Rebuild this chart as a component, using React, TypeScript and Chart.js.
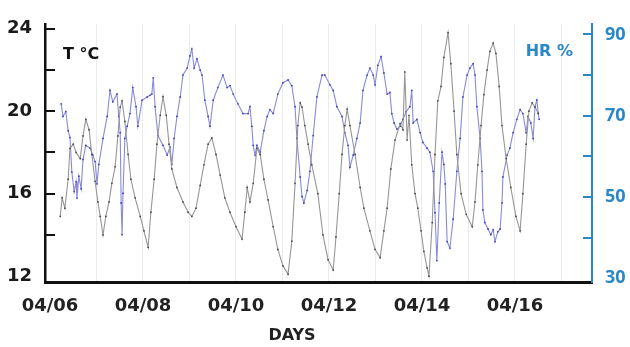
import { useEffect, useRef } from 'react';
import { Chart, registerables } from 'chart.js';

Chart.register(...registerables);

// x values are days elapsed since 04/06 00:00
const DAY_LABELS = ['04/06', '04/08', '04/10', '04/12', '04/14', '04/16'];
const T_TICKS = [12, 14, 16, 18, 20, 22, 24];
const T_LABELED = [12, 16, 20, 24];
const HR_TICKS = [30, 40, 50, 60, 70, 80, 90];
const HR_LABELED = [30, 50, 70, 90];

const TEMP_TIME = [
  0.22, 0.26, 0.32, 0.39, 0.43, 0.5, 0.56, 0.65, 0.71, 0.77,
  0.84, 0.9, 0.97, 1.03, 1.08, 1.14, 1.2, 1.27, 1.33, 1.4,
  1.46, 1.51, 1.55, 1.61, 1.68, 1.74, 1.83, 1.94, 2.02, 2.11,
  2.17, 2.24, 2.3, 2.37, 2.43, 2.5, 2.56, 2.62, 2.73, 2.86,
  2.97, 3.05, 3.14, 3.23, 3.31, 3.4, 3.48, 3.57, 3.66, 3.76,
  3.87, 4.0, 4.13, 4.19, 4.24, 4.3, 4.37, 4.45, 4.52, 4.6,
  4.69, 4.8, 4.9, 5.01, 5.12, 5.2, 5.27, 5.33, 5.38, 5.42,
  5.48, 5.55, 5.63, 5.76, 5.87, 5.98, 6.09, 6.15, 6.22, 6.28,
  6.34, 6.39, 6.45, 6.56, 6.67, 6.75, 6.88, 6.99, 7.1, 7.18,
  7.25, 7.33, 7.42, 7.53, 7.59, 7.63, 7.68, 7.72, 7.78, 7.85,
  7.91, 7.98, 8.04, 8.11, 8.15, 8.22, 8.28, 8.34, 8.41, 8.47,
  8.56, 8.62, 8.69, 8.75, 8.84, 8.95, 9.08, 9.14, 9.2, 9.27,
  9.33, 9.4, 9.46, 9.53, 9.59, 9.66, 9.72, 9.81, 9.91, 10.02,
  10.11, 10.17, 10.24, 10.3, 10.37, 10.43, 10.5,
];
const TEMP = [
  14.9, 15.8, 15.3, 16.7, 18.2, 18.4, 18.0, 17.7, 18.8, 19.6,
  19.1, 17.9, 16.6, 15.6, 14.9, 14.0, 14.9, 15.6, 16.5, 17.3,
  18.8, 20.2, 20.5, 19.5, 17.9, 16.7, 15.8, 14.9, 14.2, 13.4,
  15.1, 16.7, 18.4, 19.8, 20.7, 19.8, 18.4, 17.2, 16.3, 15.6,
  15.1, 14.9, 15.3, 16.4, 17.4, 18.4, 18.7, 17.9, 16.9, 15.8,
  15.1, 14.4, 13.8, 15.1, 16.3, 15.6, 16.5, 18.2, 17.9, 16.7,
  15.7, 14.4, 13.3, 12.5, 12.1, 13.7, 16.5, 19.3, 20.4, 20.2,
  19.3, 18.4, 17.4, 16.0, 14.0, 12.8, 12.3, 13.9, 16.0, 17.9,
  19.3, 20.1, 19.3, 17.9, 16.3, 15.3, 14.2, 13.3, 12.9, 14.2,
  15.3, 17.2, 18.6, 19.4, 19.1, 21.9, 18.6, 19.8, 17.4, 16.0,
  15.3, 14.2, 13.2, 12.4, 12.0, 14.6, 17.9, 20.5, 21.2, 22.6,
  23.8, 22.3, 20.0, 17.9, 16.0, 15.0, 14.4, 15.6, 17.4, 19.3,
  20.8, 22.0, 22.9, 23.3, 22.8, 21.2, 19.3, 17.7, 16.3, 14.9,
  14.2, 16.0, 18.4, 20.0, 20.4, 20.2, 19.9,
];

const HR_TIME = [
  0.24, 0.28, 0.34, 0.39, 0.43, 0.47, 0.52, 0.56, 0.58, 0.62,
  0.67, 0.71, 0.77, 0.86, 0.92, 0.97, 1.01, 1.05, 1.14, 1.23,
  1.29, 1.35, 1.44, 1.48, 1.51, 1.53, 1.55, 1.57, 1.61, 1.66,
  1.72, 1.78, 1.85, 1.89, 1.98, 2.09, 2.15, 2.19, 2.22, 2.26,
  2.32, 2.43, 2.52, 2.58, 2.62, 2.67, 2.73, 2.8, 2.86, 2.95,
  3.01, 3.05, 3.1, 3.16, 3.23, 3.27, 3.33, 3.4, 3.44, 3.51,
  3.61, 3.72, 3.81, 3.87, 3.94, 4.04, 4.15, 4.26, 4.3, 4.34,
  4.37, 4.41, 4.45, 4.52, 4.6, 4.67, 4.73, 4.8, 4.9, 5.01,
  5.12, 5.2, 5.27, 5.31, 5.38, 5.42, 5.46, 5.53, 5.59, 5.66,
  5.74, 5.85, 5.91, 6.02, 6.09, 6.17, 6.28, 6.34, 6.41, 6.45,
  6.52, 6.6, 6.67, 6.73, 6.82, 6.88, 6.95, 6.99, 7.05, 7.12,
  7.18, 7.25, 7.31, 7.35, 7.4, 7.46, 7.53, 7.59, 7.66, 7.74,
  7.78, 7.81, 7.89, 7.96, 8.02, 8.11, 8.17, 8.24, 8.28, 8.32,
  8.37, 8.43, 8.47, 8.5, 8.54, 8.6, 8.67, 8.75, 8.82, 8.88,
  8.97, 9.03, 9.1, 9.14, 9.18, 9.25, 9.29, 9.31, 9.35, 9.42,
  9.48, 9.53, 9.57, 9.63, 9.68, 9.72, 9.74, 9.83, 9.89, 9.96,
  10.04, 10.11, 10.17, 10.24, 10.28, 10.34, 10.39, 10.43, 10.47, 10.5,
  10.52,
];
const HR = [
  72.9, 69.8, 71.0, 66.3, 64.6, 56.1, 51.3, 53.7, 49.7, 55.1,
  52.0, 59.2, 62.7, 62.0, 60.3, 58.7, 53.2, 58.0, 64.4, 69.8,
  76.2, 73.4, 75.3, 69.8, 65.8, 48.5, 40.7, 50.9, 64.4, 67.4,
  70.5, 76.9, 72.2, 67.4, 73.8, 74.6, 75.0, 75.3, 79.3, 72.2,
  65.1, 62.7, 60.3, 62.2, 58.0, 64.4, 69.8, 74.6, 80.0, 81.7,
  84.7, 86.4, 81.7, 84.0, 81.2, 80.0, 73.8, 69.8, 67.4, 73.8,
  76.9, 80.0, 76.9, 77.4, 75.3, 72.9, 70.5, 70.5, 72.2, 67.4,
  62.7, 60.3, 62.7, 61.0, 66.3, 69.8, 71.5, 70.5, 75.3, 78.1,
  78.8, 77.4, 72.2, 64.4, 54.9, 50.1, 48.5, 51.6, 56.3, 65.1,
  74.6, 80.0, 80.0, 77.6, 76.2, 72.2, 69.8, 65.8, 62.7, 57.3,
  60.3, 64.4, 68.2, 76.2, 80.0, 81.7, 80.0, 77.6, 82.4, 84.5,
  80.5, 75.3, 75.7, 70.5, 68.2, 66.7, 67.4, 69.1, 71.0, 72.2,
  76.2, 68.2, 69.1, 65.8, 63.4, 62.0, 61.0, 56.3, 46.1, 34.3,
  48.5, 61.0, 58.0, 53.2, 39.0, 37.4, 44.5, 56.3, 64.4, 74.6,
  80.0, 81.7, 82.8, 80.0, 72.2, 64.4, 56.3, 46.8, 43.7, 42.1,
  40.7, 41.9, 39.0, 41.4, 42.1, 48.5, 54.9, 60.3, 62.0, 65.8,
  69.1, 71.5, 70.5, 65.8, 69.8, 68.2, 64.4, 72.2, 73.8, 70.5,
  69.1,
];

const BLUE_AXIS = '#2a88c8';

const decorPlugin = {
  id: 'decor',
  afterDraw(chart: any) {
    const { ctx, chartArea, scales } = chart;
    const yl = scales.y;
    const yr = scales.y1;
    ctx.save();
    ctx.lineWidth = 2;
    ctx.strokeStyle = '#111111';
    yl.ticks.forEach((t: any) => {
      if (t.value === yl.ticks[0].value) return;
      const p = Math.round(yl.getPixelForValue(t.value));
      ctx.beginPath();
      ctx.moveTo(chartArea.left, p);
      ctx.lineTo(chartArea.left + 10, p);
      ctx.stroke();
    });
    ctx.strokeStyle = BLUE_AXIS;
    yr.ticks.forEach((t: any) => {
      if (t.value === yr.ticks[0].value) return;
      const p = Math.round(yr.getPixelForValue(t.value));
      ctx.beginPath();
      ctx.moveTo(chartArea.right - 9, p);
      ctx.lineTo(chartArea.right, p);
      ctx.stroke();
    });
    ctx.textBaseline = 'middle';
    ctx.font = 'bold 16px "DejaVu Sans"';
    ctx.fillStyle = '#111111';
    ctx.textAlign = 'left';
    ctx.fillText('T °C', chartArea.left + 18, 55);
    ctx.fillStyle = BLUE_AXIS;
    ctx.textAlign = 'right';
    ctx.fillText('HR %', chartArea.right - 19, 52);
    ctx.fillStyle = '#222222';
    ctx.textAlign = 'center';
    ctx.fillText('DAYS', 292, 336);
    ctx.restore();
  },
};

export default function App() {
  const canvasRef = useRef<HTMLCanvasElement | null>(null);

  useEffect(() => {
    if (!canvasRef.current) return;
    const tempData = TEMP_TIME.map((x, i) => ({ x, y: TEMP[i] }));
    const hrData = HR_TIME.map((x, i) => ({ x, y: HR[i] }));
    const chart = new Chart(canvasRef.current, {
      type: 'line',
      data: {
        datasets: [
          {
            label: 'T °C',
            data: tempData,
            yAxisID: 'y',
            borderColor: '#969696',
            borderWidth: 1.1,
            pointRadius: 0.9,
            pointBorderWidth: 0,
            pointBackgroundColor: '#4a4a4a',
            tension: 0,
          },
          {
            label: 'HR %',
            data: hrData,
            yAxisID: 'y1',
            borderColor: '#8a8ad8',
            borderWidth: 1.1,
            pointRadius: 0.9,
            pointBorderWidth: 0,
            pointBackgroundColor: '#3d3dc8',
            tension: 0,
          },
        ],
      },
      options: {
        animation: false,
        responsive: false,
        devicePixelRatio: 1,
        layout: { padding: { top: 14, left: 0, right: 0, bottom: 0 } },
        plugins: { legend: { display: false }, tooltip: { enabled: false } },
        scales: {
          x: {
            type: 'linear',
            min: -0.1075,
            max: 11.656,
            afterBuildTicks: (s: any) => {
              s.ticks = [0, 1, 2, 3, 4, 5, 6, 7, 8, 9, 10, 11].map((v) => ({ value: v }));
            },
            afterFit: (s: any) => {
              s.height = 65;
            },
            grid: {
              drawTicks: false,
              color: (c: any) => (c.tick && c.tick.value === 0 ? 'rgba(0,0,0,0)' : '#ebebeb'),
              lineWidth: 1,
            },
            border: { display: true, color: '#111111', width: 3 },
            ticks: {
              autoSkip: false,
              maxRotation: 0,
              padding: 14,
              color: '#222222',
              font: { family: 'DejaVu Sans', weight: 'bold', size: 18 },
              callback: (v: any) => (Number(v) % 2 === 0 ? DAY_LABELS[Number(v) / 2] ?? '' : ''),
            },
          },
          y: {
            type: 'linear',
            position: 'left',
            min: 11.72,
            max: 24.234,
            afterBuildTicks: (s: any) => {
              s.ticks = T_TICKS.map((v) => ({ value: v }));
            },
            afterFit: (s: any) => {
              s.width = 45;
            },
            grid: { display: false, drawTicks: false },
            border: { display: true, color: '#111111', width: 2.5 },
            ticks: {
              padding: 13,
              color: '#1a1a1a',
              font: { family: 'DejaVu Sans', weight: 'bold', size: 18 },
              callback: (v: any) => (T_LABELED.includes(Number(v)) ? String(v) : ''),
            },
          },
          y1: {
            type: 'linear',
            position: 'right',
            min: 29.05,
            max: 92.61,
            afterBuildTicks: (s: any) => {
              s.ticks = HR_TICKS.map((v) => ({ value: v }));
            },
            afterFit: (s: any) => {
              s.width = 38;
            },
            grid: { display: false, drawTicks: false },
            border: { display: true, color: BLUE_AXIS, width: 2 },
            ticks: {
              padding: 13,
              color: BLUE_AXIS,
              font: { family: 'Open Sans', weight: 'bold', size: 18 },
              callback: (v: any) => (HR_LABELED.includes(Number(v)) ? String(v) : ''),
            },
          },
        },
      },
      plugins: [decorPlugin],
    });
    return () => chart.destroy();
  }, []);

  return (
    <div style={{ position: 'fixed', left: 0, top: 0, width: 630, height: 347, background: '#ffffff' }}>
      <canvas ref={canvasRef} width={630} height={347} style={{ width: 630, height: 347, display: 'block' }} />
    </div>
  );
}
